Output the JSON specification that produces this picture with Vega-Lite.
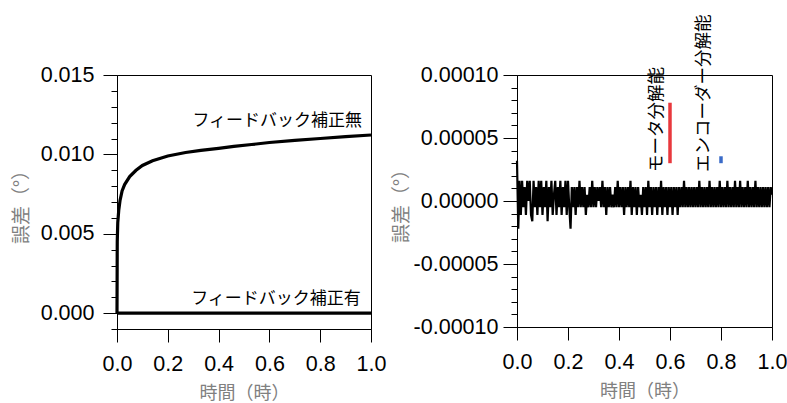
{
  "$schema": "https://vega.github.io/schema/vega-lite/v6.json",
  "background": "white",
  "padding": {"left": 11, "top": 14, "right": 0, "bottom": 0},
  "spacing": 4,
  "config": {
    "view": {"stroke": "black", "strokeWidth": 1},
    "axis": {"grid": false, "domainColor": "black", "tickColor": "black", "labelColor": "black", "labelFont": "Liberation Sans", "labelFontSize": 21.5, "titleFont": "Noto Sans CJK JP", "titleFontSize": 18, "titleColor": "#808080", "titleFontWeight": "normal", "labelOverlap": false, "labelFlush": false, "labelBound": false, "tickCount": 100},
    "text": {"font": "Noto Sans CJK JP", "fontSize": 17, "color": "black"}
  },
  "datasets": {
    "left": [
      {"series": "無", "t": 0, "e": 0},
      {"series": "無", "t": 0.001, "e": 0.0045},
      {"series": "無", "t": 0.003, "e": 0.0057},
      {"series": "無", "t": 0.007, "e": 0.0065},
      {"series": "無", "t": 0.012, "e": 0.0071},
      {"series": "無", "t": 0.02, "e": 0.0077},
      {"series": "無", "t": 0.03, "e": 0.0081},
      {"series": "無", "t": 0.05, "e": 0.0086},
      {"series": "無", "t": 0.075, "e": 0.009},
      {"series": "無", "t": 0.1, "e": 0.0093},
      {"series": "無", "t": 0.14, "e": 0.0096},
      {"series": "無", "t": 0.2, "e": 0.0099},
      {"series": "無", "t": 0.27, "e": 0.01012},
      {"series": "無", "t": 0.33, "e": 0.01025},
      {"series": "無", "t": 0.4, "e": 0.01038},
      {"series": "無", "t": 0.46, "e": 0.0105},
      {"series": "無", "t": 0.53, "e": 0.01062},
      {"series": "無", "t": 0.6, "e": 0.01075},
      {"series": "無", "t": 0.7, "e": 0.01088},
      {"series": "無", "t": 0.8, "e": 0.011},
      {"series": "無", "t": 0.9, "e": 0.01112},
      {"series": "無", "t": 1.0, "e": 0.01122},
      {"series": "有", "t": 0, "e": 0},
      {"series": "有", "t": 1.0, "e": 0}
    ],
    "labelsL": [
      {"t": 0.965, "e": 0.0121, "label": "フィードバック補正無"},
      {"t": 0.96, "e": 0.00088, "label": "フィードバック補正有"}
    ],
    "labelsR": [
      {"t": 0.55, "e": 0.000023, "label": "モータ分解能"},
      {"t": 0.735, "e": 0.000023, "label": "エンコーダー分解能"}
    ],
    "bars": [
      {"kind": "モータ分解能", "t": 0.6, "lo": 0.00003, "hi": 0.000078},
      {"kind": "エンコーダー分解能", "t": 0.8, "lo": 0.00003, "hi": 0.0000355}
    ],
    "right": [
      {"t":0,"e":3.2e-5},{"t":0.005,"e":-2.2e-5},{"t":0.01,"e":1.6e-5},{"t":0.015,"e":-1.1e-5},{"t":0.02,"e":1.6e-5},
      {"t":0.025,"e":-5e-6},{"t":0.03,"e":1.1e-5},{"t":0.035,"e":-1.1e-5},{"t":0.04,"e":1.6e-5},{"t":0.045,"e":0},
      {"t":0.05,"e":1.6e-5},{"t":0.055,"e":-1.1e-5},{"t":0.06,"e":-1.6e-5},{"t":0.065,"e":1.6e-5},{"t":0.07,"e":-5e-6},
      {"t":0.075,"e":1.1e-5},{"t":0.08,"e":-1.1e-5},{"t":0.085,"e":1.6e-5},{"t":0.09,"e":-5e-6},{"t":0.095,"e":1.6e-5},
      {"t":0.1,"e":-1.1e-5},{"t":0.105,"e":1.1e-5},{"t":0.11,"e":-5e-6},{"t":0.115,"e":1.6e-5},{"t":0.12,"e":-1.6e-5},
      {"t":0.125,"e":1.1e-5},{"t":0.13,"e":-5e-6},{"t":0.135,"e":1.6e-5},{"t":0.14,"e":-1.1e-5},{"t":0.145,"e":5e-6},
      {"t":0.15,"e":1.6e-5},{"t":0.155,"e":-1.1e-5},{"t":0.16,"e":1.1e-5},{"t":0.165,"e":-5e-6},{"t":0.17,"e":1.6e-5},
      {"t":0.175,"e":-1.1e-5},{"t":0.18,"e":1.1e-5},{"t":0.185,"e":-5e-6},{"t":0.19,"e":1.6e-5},{"t":0.195,"e":-1.1e-5},
      {"t":0.2,"e":1.6e-5},{"t":0.205,"e":-5e-6},{"t":0.21,"e":-2.2e-5},{"t":0.215,"e":1.1e-5},{"t":0.22,"e":-5e-6},
      {"t":0.225,"e":1.1e-5},{"t":0.23,"e":-1.1e-5},{"t":0.235,"e":1.1e-5},{"t":0.24,"e":-5e-6},{"t":0.245,"e":1.6e-5},
      {"t":0.25,"e":-5e-6},{"t":0.255,"e":1.1e-5},{"t":0.26,"e":-5e-6},{"t":0.265,"e":1.1e-5},{"t":0.27,"e":-1.1e-5},
      {"t":0.275,"e":5e-6},{"t":0.28,"e":-5e-6},{"t":0.285,"e":1.1e-5},{"t":0.29,"e":-5e-6},{"t":0.295,"e":1.6e-5},
      {"t":0.3,"e":-5e-6},{"t":0.305,"e":1.1e-5},{"t":0.31,"e":-5e-6},{"t":0.315,"e":1.1e-5},{"t":0.32,"e":0},
      {"t":0.325,"e":1.1e-5},{"t":0.33,"e":-5e-6},{"t":0.335,"e":1.6e-5},{"t":0.34,"e":-5e-6},{"t":0.345,"e":1.1e-5},
      {"t":0.35,"e":-1.1e-5},{"t":0.355,"e":1.1e-5},{"t":0.36,"e":-5e-6},{"t":0.365,"e":1.1e-5},{"t":0.37,"e":-5e-6},
      {"t":0.375,"e":5e-6},{"t":0.38,"e":-5e-6},{"t":0.385,"e":1.1e-5},{"t":0.39,"e":-5e-6},{"t":0.395,"e":1.6e-5},
      {"t":0.4,"e":-5e-6},{"t":0.405,"e":1.1e-5},{"t":0.41,"e":-5e-6},{"t":0.415,"e":1.1e-5},{"t":0.42,"e":-1.1e-5},
      {"t":0.425,"e":1.1e-5},{"t":0.43,"e":-5e-6},{"t":0.435,"e":1.1e-5},{"t":0.44,"e":-5e-6},{"t":0.445,"e":1.6e-5},
      {"t":0.45,"e":-1.1e-5},{"t":0.455,"e":1.1e-5},{"t":0.46,"e":-5e-6},{"t":0.465,"e":1.1e-5},{"t":0.47,"e":-1.1e-5},
      {"t":0.475,"e":1.1e-5},{"t":0.48,"e":-5e-6},{"t":0.485,"e":5e-6},{"t":0.49,"e":-1.1e-5},{"t":0.495,"e":1.1e-5},
      {"t":0.5,"e":-5e-6},{"t":0.505,"e":1.1e-5},{"t":0.51,"e":-1.1e-5},{"t":0.515,"e":1.6e-5},{"t":0.52,"e":-5e-6},
      {"t":0.525,"e":1.1e-5},{"t":0.53,"e":-1.1e-5},{"t":0.535,"e":1.1e-5},{"t":0.54,"e":-5e-6},{"t":0.545,"e":1.1e-5},
      {"t":0.55,"e":-1.1e-5},{"t":0.555,"e":1.1e-5},{"t":0.56,"e":-5e-6},{"t":0.565,"e":1.6e-5},{"t":0.57,"e":-1.1e-5},
      {"t":0.575,"e":1.1e-5},{"t":0.58,"e":-5e-6},{"t":0.585,"e":1.1e-5},{"t":0.59,"e":-1.1e-5},{"t":0.595,"e":1.1e-5},
      {"t":0.6,"e":-5e-6},{"t":0.605,"e":1.1e-5},{"t":0.61,"e":-1.1e-5},{"t":0.615,"e":1.1e-5},{"t":0.62,"e":-5e-6},
      {"t":0.625,"e":1.1e-5},{"t":0.63,"e":-1.1e-5},{"t":0.635,"e":1.1e-5},{"t":0.64,"e":-5e-6},{"t":0.645,"e":1.1e-5},
      {"t":0.65,"e":-5e-6},{"t":0.655,"e":1.6e-5},{"t":0.66,"e":-5e-6},{"t":0.665,"e":1.1e-5},{"t":0.67,"e":-5e-6},
      {"t":0.675,"e":1.1e-5},{"t":0.68,"e":-5e-6},{"t":0.685,"e":1.1e-5},{"t":0.69,"e":-5e-6},{"t":0.695,"e":1.1e-5},
      {"t":0.7,"e":-5e-6},{"t":0.705,"e":1.1e-5},{"t":0.71,"e":-5e-6},{"t":0.715,"e":1.6e-5},{"t":0.72,"e":-5e-6},
      {"t":0.725,"e":1.1e-5},{"t":0.73,"e":-5e-6},{"t":0.735,"e":1.1e-5},{"t":0.74,"e":-5e-6},{"t":0.745,"e":1.1e-5},
      {"t":0.75,"e":-5e-6},{"t":0.755,"e":1.6e-5},{"t":0.76,"e":-5e-6},{"t":0.765,"e":1.1e-5},{"t":0.77,"e":-5e-6},
      {"t":0.775,"e":1.1e-5},{"t":0.78,"e":-5e-6},{"t":0.785,"e":1.1e-5},{"t":0.79,"e":-5e-6},{"t":0.795,"e":1.6e-5},
      {"t":0.8,"e":-5e-6},{"t":0.805,"e":1.1e-5},{"t":0.81,"e":-5e-6},{"t":0.815,"e":1.1e-5},{"t":0.82,"e":-5e-6},
      {"t":0.825,"e":1.6e-5},{"t":0.83,"e":-5e-6},{"t":0.835,"e":1.1e-5},{"t":0.84,"e":-5e-6},{"t":0.845,"e":1.1e-5},
      {"t":0.85,"e":-5e-6},{"t":0.855,"e":1.6e-5},{"t":0.86,"e":-5e-6},{"t":0.865,"e":1.1e-5},{"t":0.87,"e":-5e-6},
      {"t":0.875,"e":1.6e-5},{"t":0.88,"e":-5e-6},{"t":0.885,"e":1.1e-5},{"t":0.89,"e":-5e-6},{"t":0.895,"e":1.1e-5},
      {"t":0.9,"e":-5e-6},{"t":0.905,"e":1.6e-5},{"t":0.91,"e":-5e-6},{"t":0.915,"e":1.1e-5},{"t":0.92,"e":-5e-6},
      {"t":0.925,"e":1.1e-5},{"t":0.93,"e":-5e-6},{"t":0.935,"e":1.6e-5},{"t":0.94,"e":-5e-6},{"t":0.945,"e":1.1e-5},
      {"t":0.95,"e":-5e-6},{"t":0.955,"e":1.1e-5},{"t":0.96,"e":-5e-6},{"t":0.965,"e":1.1e-5},{"t":0.97,"e":-5e-6},
      {"t":0.975,"e":1.1e-5},{"t":0.98,"e":-5e-6},{"t":0.985,"e":1.1e-5},{"t":0.99,"e":-5e-6},{"t":0.995,"e":1.1e-5},
      {"t":1.0,"e":5e-6}
    ]
  },
  "hconcat": [
    {
      "width": 254,
      "height": 254,
      "layer": [
        {
          "data": {"name": "left"},
          "mark": {"type": "line", "color": "black", "strokeWidth": 3.2},
          "encoding": {
            "x": {"field": "t", "type": "quantitative", "scale": {"domain": [0, 1], "nice": false},
              "axis": {"values": [0, 0.2, 0.4, 0.6, 0.8, 1], "format": ".1f", "tickSize": 13, "labelPadding": 11, "title": "時間（時）", "titlePadding": 10}},
            "y": {"field": "e", "type": "quantitative", "scale": {"domain": [-0.001, 0.015], "nice": false, "zero": false},
              "axis": {"values": [-0.001, 0, 0.001, 0.002, 0.003, 0.004, 0.005, 0.006, 0.007, 0.008, 0.009, 0.01, 0.011, 0.012, 0.013, 0.014, 0.015],
                "labelExpr": "abs(round(datum.value*1000)) % 5 == 0 ? format(datum.value, '.3f') : ''",
                "tickSize": {"condition": {"test": "abs(round(datum.value*1000)) % 5 == 0", "value": 14}, "value": 6},
                "labelPadding": 9, "title": "誤差（°）", "titleFontSize": 19, "titlePadding": 9}},
            "detail": {"field": "series", "type": "nominal"}
          }
        },
        {
          "data": {"name": "labelsL"},
          "mark": {"type": "text", "align": "right", "baseline": "middle"},
          "encoding": {
            "x": {"field": "t", "type": "quantitative"},
            "y": {"field": "e", "type": "quantitative"},
            "text": {"field": "label"}
          }
        }
      ]
    },
    {
      "width": 255,
      "height": 252,
      "layer": [
        {
          "data": {"name": "right"},
          "mark": {"type": "line", "color": "black", "strokeWidth": 2.2},
          "encoding": {
            "x": {"field": "t", "type": "quantitative", "scale": {"domain": [0, 1], "nice": false},
              "axis": {"values": [0, 0.2, 0.4, 0.6, 0.8, 1], "format": ".1f", "tickSize": 13, "labelPadding": 11, "title": "時間（時）", "titlePadding": 10}},
            "y": {"field": "e", "type": "quantitative", "scale": {"domain": [-0.0001, 0.0001], "nice": false, "zero": false},
              "axis": {"values": [-0.0001, -0.00009, -0.00008, -0.00007, -0.00006, -0.00005, -0.00004, -0.00003, -0.00002, -0.00001, 0, 0.00001, 0.00002, 0.00003, 0.00004, 0.00005, 0.00006, 0.00007, 0.00008, 0.00009, 0.0001],
                "labelExpr": "abs(round(datum.value*100000)) % 5 == 0 ? replace(format(datum.value, '.5f'), '−', '-') : ''",
                "tickSize": {"condition": {"test": "abs(round(datum.value*100000)) % 5 == 0", "value": 14}, "value": 6},
                "labelPadding": 5, "title": "誤差（°）", "titleFontSize": 19, "titlePadding": 2}}
          }
        },
        {
          "data": {"name": "bars"},
          "mark": {"type": "rule", "strokeWidth": 3.5},
          "encoding": {
            "x": {"field": "t", "type": "quantitative"},
            "y": {"field": "lo", "type": "quantitative"},
            "y2": {"field": "hi"},
            "color": {"field": "kind", "type": "nominal", "scale": {"domain": ["モータ分解能", "エンコーダー分解能"], "range": ["#e8383d", "#3a6bc8"]}, "legend": null}
          }
        },
        {
          "data": {"name": "labelsR"},
          "mark": {"type": "text", "align": "left", "baseline": "middle", "angle": 270, "fontSize": 17.5},
          "encoding": {
            "x": {"field": "t", "type": "quantitative"},
            "y": {"field": "e", "type": "quantitative"},
            "text": {"field": "label"}
          }
        }
      ]
    }
  ]
}
